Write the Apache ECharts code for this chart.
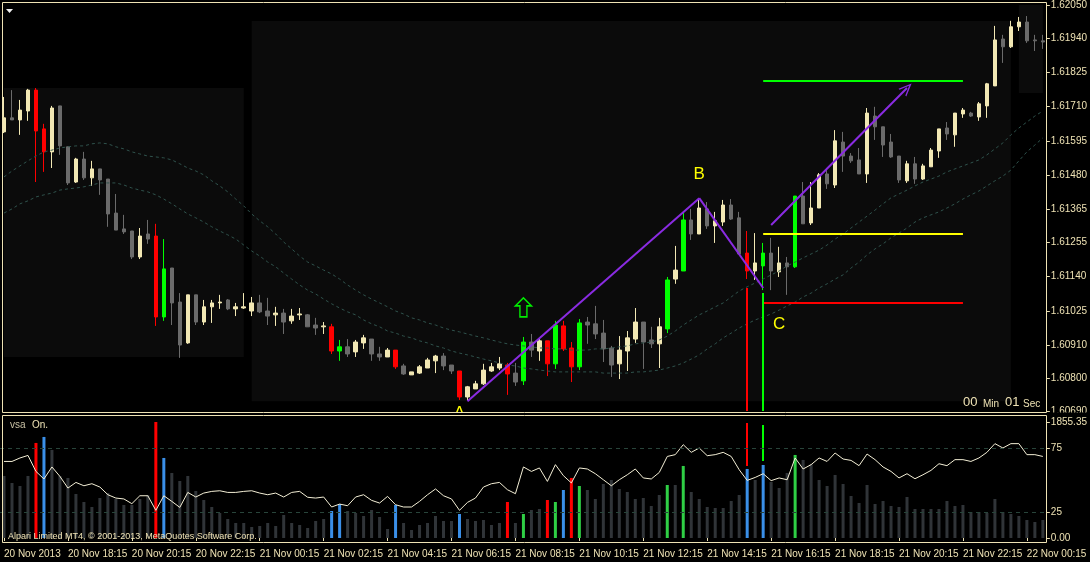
<!DOCTYPE html>
<html>
<head>
<meta charset="utf-8">
<title>GBPUSD M15 vsa</title>
<script src="https://cdn.jsdelivr.net/npm/echarts@6.0.0/dist/echarts.min.js"></script>
<style>
html, body { margin: 0; padding: 0; background: #000; }
#chart { width: 1090px; height: 562px; }
</style>
</head>
<body>
<div id="chart"></div>
<script>
var chartDom = document.getElementById('chart');
var myChart = echarts.init(chartDom);
var option;

// axis labels
var tickLabels = ['20 Nov 2013', '20 Nov 18:15', '20 Nov 20:15', '20 Nov 22:15', '21 Nov 00:15',
  '21 Nov 02:15', '21 Nov 04:15', '21 Nov 06:15', '21 Nov 08:15', '21 Nov 10:15', '21 Nov 12:15',
  '21 Nov 14:15', '21 Nov 16:15', '21 Nov 18:15', '21 Nov 20:15', '21 Nov 22:15', '22 Nov 00:15'];
var priceLabels = [1.62050, 1.61940, 1.61825, 1.61710, 1.61595, 1.61480, 1.61365, 1.61255,
  1.61140, 1.61025, 1.60910, 1.60800, 1.60690];
var oscLevels = [25, 75];
var volScaleLabels = [0, 1855.35];

// 15 minute bars, 20 Nov 16:15 .. 22 Nov 00:45
var categories = [];
var t0 = Date.UTC(2013, 10, 20, 16, 15);
for (let i = 0; i < 131; i++) {
  var d = new Date(t0 + i * 900000);
  categories.push(d.getUTCDate() + ' Nov ' + ('0' + d.getUTCHours()).slice(-2) + ':' + ('0' + d.getUTCMinutes()).slice(-2));
}

// open, close, low, high
var ohlc = [
  [1.61625,1.61672,1.61621,1.61742],[1.61672,1.61665,1.61665,1.61765],[1.61665,1.61698,1.61615,1.61732],
  [1.61695,1.61765,1.61662,1.61769],[1.61765,1.61628,1.61457,1.61772],[1.61635,1.61558,1.61491,1.61652],
  [1.61558,1.61705,1.61504,1.61712],[1.61712,1.61578,1.61548,1.61712],[1.61575,1.61454,1.61447,1.61575],
  [1.61457,1.61534,1.61454,1.61538],[1.61534,1.61471,1.61464,1.61558],[1.61471,1.61501,1.61444,1.61528],
  [1.61501,1.61464,1.61414,1.61501],[1.61467,1.61350,1.61307,1.61467],[1.61353,1.61296,1.61296,1.61417],
  [1.61300,1.61290,1.61283,1.61347],[1.61293,1.61206,1.61199,1.61293],[1.61206,1.61276,1.61199,1.61303],
  [1.61283,1.61266,1.61250,1.61330],[1.61276,1.61005,1.60975,1.61317],[1.61005,1.61166,1.60992,1.61266],
  [1.61169,1.61052,1.60978,1.61169],[1.61055,1.60911,1.60868,1.61085],[1.60918,1.61079,1.60915,1.61079],
  [1.61079,1.60988,1.60978,1.61079],[1.60988,1.61039,1.60978,1.61062],[1.61039,1.61052,1.60985,1.61062],
  [1.61052,1.61055,1.61032,1.61079],[1.61062,1.61032,1.61028,1.61065],[1.61032,1.61039,1.61008,1.61052],
  [1.61035,1.61039,1.61032,1.61085],[1.61025,1.61052,1.61008,1.61072],[1.61052,1.61022,1.61018,1.61079],
  [1.61025,1.61008,1.60978,1.61069],[1.61012,1.61018,1.60975,1.61039],[1.61018,1.60988,1.60948,1.61032],
  [1.60992,1.61008,1.60982,1.61032],[1.61012,1.61015,1.60995,1.61035],[1.61012,1.60972,1.60972,1.61015],
  [1.60978,1.60968,1.60945,1.61002],[1.60972,1.60975,1.60948,1.60988],[1.60972,1.60891,1.60881,1.60982],
  [1.60891,1.60905,1.60858,1.60928],[1.60905,1.60881,1.60871,1.60931],[1.60888,1.60921,1.60871,1.60928],
  [1.60918,1.60935,1.60898,1.60945],[1.60931,1.60881,1.60858,1.60931],[1.60881,1.60871,1.60858,1.60905],
  [1.60871,1.60894,1.60871,1.60901],[1.60894,1.60838,1.60831,1.60894],[1.60841,1.60814,1.60811,1.60848],
  [1.60811,1.60821,1.60811,1.60821],[1.60817,1.60838,1.60814,1.60844],[1.60834,1.60861,1.60834,1.60868],
  [1.60858,1.60874,1.60817,1.60878],[1.60874,1.60841,1.60827,1.60884],[1.60844,1.60824,1.60814,1.60844],
  [1.60824,1.60737,1.60727,1.60824],[1.60737,1.60771,1.60727,1.60774],[1.60764,1.60781,1.60764,1.60791],
  [1.60781,1.60827,1.60777,1.60848],[1.60824,1.60838,1.60821,1.60851],[1.60834,1.60848,1.60827,1.60871],
  [1.60844,1.60814,1.60744,1.60851],[1.60817,1.60787,1.60774,1.60851],[1.60791,1.60921,1.60777,1.60938],
  [1.60921,1.60894,1.60871,1.60948],[1.60891,1.60925,1.60858,1.60931],[1.60925,1.60848,1.60807,1.60925],
  [1.60848,1.60978,1.60831,1.60992],[1.60975,1.60898,1.60891,1.60992],[1.60901,1.60838,1.60787,1.60921],
  [1.60838,1.60985,1.60827,1.60998],[1.60988,1.60978,1.60915,1.61005],[1.60982,1.60948,1.60931,1.61042],
  [1.60951,1.60898,1.60854,1.60995],[1.60901,1.60844,1.60804,1.60908],[1.60848,1.60894,1.60797,1.60941],
  [1.60891,1.60935,1.60824,1.60958],[1.60931,1.60988,1.60918,1.61035],[1.60988,1.60921,1.60831,1.60988],
  [1.60928,1.60915,1.60901,1.60972],[1.60915,1.60972,1.60834,1.61002],[1.60965,1.61129,1.60951,1.61139],
  [1.61132,1.61162,1.61116,1.61243],[1.61159,1.61330,1.61159,1.61357],[1.61330,1.61283,1.61263,1.61367],
  [1.61283,1.61370,1.61283,1.61400],[1.61367,1.61310,1.61300,1.61390],[1.61310,1.61327,1.61253,1.61357],
  [1.61323,1.61380,1.61310,1.61397],[1.61380,1.61333,1.61330,1.61400],[1.61337,1.61216,1.61216,1.61357],
  [1.61219,1.61159,1.61132,1.61293],[1.61159,1.61186,1.61129,1.61286],[1.61176,1.61219,1.61095,1.61253],
  [1.61219,1.61159,1.61095,1.61270],[1.61156,1.61186,1.61139,1.61240],[1.61186,1.61173,1.61079,1.61206],
  [1.61173,1.61410,1.61169,1.61410],[1.61410,1.61317,1.61317,1.61457],[1.61320,1.61370,1.61313,1.61457],
  [1.61370,1.61481,1.61370,1.61487],[1.61484,1.61451,1.61434,1.61497],[1.61447,1.61595,1.61437,1.61631],
  [1.61591,1.61544,1.61491,1.61625],[1.61544,1.61528,1.61521,1.61554],[1.61531,1.61484,1.61484,1.61571],
  [1.61484,1.61688,1.61454,1.61705],[1.61678,1.61642,1.61598,1.61709],[1.61642,1.61581,1.61541,1.61642],
  [1.61591,1.61541,1.61538,1.61618],[1.61544,1.61464,1.61454,1.61544],[1.61461,1.61518,1.61454,1.61528],
  [1.61518,1.61467,1.61451,1.61541],[1.61467,1.61511,1.61464,1.61518],[1.61508,1.61564,1.61508,1.61571],
  [1.61561,1.61635,1.61538,1.61635],[1.61638,1.61618,1.61598,1.61658],[1.61615,1.61688,1.61575,1.61688],
  [1.61685,1.61698,1.61672,1.61705],[1.61688,1.61678,1.61675,1.61692],[1.61675,1.61719,1.61662,1.61725],
  [1.61712,1.61786,1.61672,1.61789],[1.61779,1.61933,1.61779,1.61980],[1.61936,1.61910,1.61856,1.61950],
  [1.61910,1.61977,1.61906,1.61997],[1.61977,1.61993,1.61963,1.62010],[1.61993,1.61930,1.61923,1.62013],
  [1.61933,1.61930,1.61896,1.61950],[1.61930,1.61926,1.61903,1.61950]
];
var redBars = [4, 5, 19, 41, 49, 57, 63, 68, 70, 71, 93];
var greenBars = [20, 42, 65, 69, 72, 83, 85, 95, 99];

var maUpper = [1.61474,1.61494,1.61511,1.61528,1.61544,1.61558,1.61564,1.61571,1.61575,1.61578,
  1.61578,1.61585,1.61588,1.61585,1.61575,1.61568,1.61558,1.61551,1.61544,1.61541,
  1.61538,1.61531,1.61518,1.61504,1.61494,1.61481,1.61461,1.61444,1.61424,1.61400,
  1.61377,1.61350,1.61327,1.61307,1.61283,1.61256,1.61233,1.61209,1.61189,1.61176,
  1.61162,1.61149,1.61132,1.61112,1.61095,1.61079,1.61065,1.61052,1.61039,1.61025,
  1.61015,1.61002,1.60995,1.60985,1.60978,1.60968,1.60961,1.60955,1.60948,1.60941,
  1.60935,1.60928,1.60921,1.60915,1.60911,1.60908,1.60905,1.60901,1.60901,1.60898,
  1.60898,1.60894,1.60894,1.60894,1.60898,1.60898,1.60901,1.60905,1.60908,1.60915,
  1.60918,1.60921,1.60928,1.60941,1.60958,1.60978,1.60995,1.61012,1.61025,1.61039,
  1.61052,1.61072,1.61092,1.61106,1.61119,1.61132,1.61146,1.61159,1.61176,1.61189,
  1.61203,1.61216,1.61229,1.61246,1.61266,1.61283,1.61303,1.61323,1.61343,1.61363,
  1.61384,1.61404,1.61417,1.61430,1.61444,1.61457,1.61467,1.61477,1.61491,1.61501,
  1.61511,1.61521,1.61531,1.61548,1.61568,1.61588,1.61615,1.61638,1.61658,1.61678,
  1.61695];
var maLower = [1.61353,1.61367,1.61384,1.61394,1.61407,1.61414,1.61420,1.61430,1.61434,1.61437,
  1.61441,1.61447,1.61454,1.61454,1.61454,1.61447,1.61437,1.61430,1.61424,1.61414,
  1.61400,1.61384,1.61367,1.61350,1.61337,1.61323,1.61307,1.61293,1.61280,1.61266,
  1.61246,1.61226,1.61209,1.61189,1.61173,1.61152,1.61132,1.61112,1.61095,1.61082,
  1.61065,1.61049,1.61035,1.61022,1.61012,1.60995,1.60982,1.60972,1.60958,1.60951,
  1.60941,1.60935,1.60925,1.60918,1.60908,1.60901,1.60891,1.60884,1.60878,1.60871,
  1.60864,1.60858,1.60851,1.60844,1.60841,1.60834,1.60831,1.60827,1.60824,1.60821,
  1.60821,1.60821,1.60821,1.60821,1.60821,1.60817,1.60817,1.60817,1.60817,1.60821,
  1.60821,1.60824,1.60827,1.60834,1.60841,1.60851,1.60864,1.60878,1.60898,1.60915,
  1.60935,1.60951,1.60968,1.60982,1.60995,1.61005,1.61015,1.61028,1.61042,1.61055,
  1.61072,1.61085,1.61102,1.61116,1.61132,1.61146,1.61169,1.61189,1.61213,1.61233,
  1.61250,1.61270,1.61286,1.61303,1.61323,1.61337,1.61347,1.61357,1.61370,1.61384,
  1.61400,1.61414,1.61427,1.61444,1.61461,1.61477,1.61497,1.61528,1.61558,1.61581,
  1.61605];

var volume = [992,880,832,992,1520,1616,1408,992,960,704,
  576,496,640,720,624,528,528,624,688,1855.35,
  1280,1040,912,992,752,608,496,400,304,240,
  240,176,192,240,192,368,240,208,160,272,
  304,432,544,432,400,352,448,336,144,528,
  240,128,208,240,352,272,272,384,304,272,
  288,208,240,576,240,384,448,464,608,576,
  768,960,832,768,624,864,928,784,736,624,
  640,512,688,848,848,1152,736,624,496,480,
  480,592,688,1104,928,1168,896,800,1040,1328,
  1248,1184,928,832,1008,864,672,560,848,544,
  592,512,496,656,464,464,464,464,592,512,
  528,416,416,400,624,416,384,352,288,256,
  288];
var volRed = [4, 19, 63, 68, 71];
var volBlue = [5, 20, 41, 42, 49, 57, 70, 93, 95];
var volGreen = [65, 69, 72, 83, 85, 99];

var vsaLine = [64.5,64.5,67.2,69.2,56.7,50.8,60.2,52.8,43.7,48.1,
  45.5,47.1,44.5,38.5,35.9,35.2,31.5,37.7,37.7,26.3,
  37.7,33.3,28.6,40.3,36.7,39.8,41.1,41.6,40.3,40.3,
  41.1,41.6,39.8,38.5,39.8,36.7,40.3,41.1,36.5,35.9,
  36.7,28.9,31.2,29.9,36.7,38.5,34.1,32.0,37.2,30.7,
  28.9,28.9,33.3,38.5,43.0,37.7,35.2,26.3,32.5,35.9,
  44.5,47.1,48.1,42.4,39.3,60.2,56.7,59.4,48.9,62.0,
  53.4,47.7,59.4,58.6,54.9,50.2,45.5,50.2,54.1,58.6,
  51.6,50.8,55.9,68.4,69.8,77.6,71.6,75.0,69.0,69.8,
  71.6,68.4,58.0,49.7,52.0,54.9,49.5,51.6,50.2,67.2,
  58.6,62.0,67.2,64.5,71.1,66.4,65.3,61.2,70.3,65.9,
  60.2,56.7,51.6,54.9,51.0,54.1,57.5,62.7,61.2,65.9,
  65.9,64.5,67.2,71.6,78.4,75.0,78.4,78.4,69.8,69.8,
  68.4];

// session boxes: first bar, last bar, top price, bottom price
var sessionBoxes = [[0, 30, 1.61772, 1.60871], [31, 126, 1.61996, 1.60723], [127, 130, 1.62050, 1.61755]];
// drawn objects
var waveABC = [[58, 1.60723], [87, 1.61403], [95, 1.61102]];
var targetArrow = [[96, 1.61313], [113, 1.61772]];
var levelSpan = [95, 120];
var levelGreen = 1.61797;
var levelYellow = 1.61284;
var levelRed = 1.61054;
var markerRed = [93, 1.61102];
var markerGreen = [95, 1.61085];
var vsaMarkRed = [93, 1152, 1839];
var vsaMarkGreen = [95, 1232, 1807];
var waveLabels = [['A', 57, 1.60690, 2], ['B', 87, 1.61483, 0], ['C', 97, 1.60980, 0]];
var upArrow = [65, 1.61037];

var FG = '#eee2b4';
var FONT = 'Liberation Sans';
var PURPLE = '#8a2be2';

var candleData = ohlc.map(function (v, i) {
  var c = null;
  if (redBars.indexOf(i) >= 0) c = '#ff0000';
  if (greenBars.indexOf(i) >= 0) c = '#00ff00';
  if (!c) return v;
  return { value: v, itemStyle: { color: c, color0: c, borderColor: c, borderColor0: c } };
});

var volData = volume.map(function (v, i) {
  var c = '#303438';
  if (volRed.indexOf(i) >= 0) c = '#ff0000';
  if (volBlue.indexOf(i) >= 0) c = '#3a8fe8';
  if (volGreen.indexOf(i) >= 0) c = '#2fcf45';
  return { value: v, itemStyle: { color: c } };
});

function seg(a, b, color, width) {
  return [{ coord: a, lineStyle: { color: color, width: width, type: 'solid' } }, { coord: b }];
}

var arrowHead = 'path://M6,0 L12,13 L10.4,13 L6,3.5 L1.6,13 L0,13 Z';
var upArrowPath = 'path://M8,0 L16,8 L11.5,8 L11.5,19 L4.5,19 L4.5,8 L0,8 Z';

var annotationLines = [
  seg(waveABC[0], waveABC[1], PURPLE, 2),
  seg(waveABC[1], waveABC[2], PURPLE, 2),
  [{ coord: targetArrow[0], lineStyle: { color: PURPLE, width: 2, type: 'solid' } },
   { coord: targetArrow[1], symbol: arrowHead, symbolSize: [11, 13] }],
  seg([levelSpan[0], levelGreen], [levelSpan[1], levelGreen], '#00ff00', 2),
  seg([levelSpan[0], levelYellow], [levelSpan[1], levelYellow], '#ffff00', 2),
  seg([levelSpan[0], levelRed], [levelSpan[1], levelRed], '#ff0000', 2),
  seg([markerRed[0], 1.6069], markerRed, '#ff0000', 2),
  seg([markerGreen[0], 1.6069], markerGreen, '#00ff00', 2)
];

var markPoints = [{
  coord: upArrow, symbol: upArrowPath, symbolSize: [16, 19],
  itemStyle: { color: 'rgba(0,0,0,0)', borderColor: '#00ee00', borderWidth: 1.5 }
}];
waveLabels.forEach(function (w) {
  markPoints.push({
    coord: [w[1], w[2]], symbol: 'circle', symbolSize: 1,
    itemStyle: { color: 'rgba(0,0,0,0)' },
    label: { show: true, position: 'inside', offset: [0, w[3]], formatter: w[0], color: '#ffff00', fontSize: 17, fontFamily: FONT }
  });
});

var boxes = sessionBoxes.map(function (b) {
  return [{ coord: [b[0], b[2]] }, { coord: [b[1], b[3]] }];
});

option = {
  backgroundColor: '#000000',
  animation: false,
  grid: [
    { left: -1, width: 1048, top: 5, height: 406 },
    { left: -1, width: 1048, top: 416, height: 128 }
  ],
  xAxis: [
    { type: 'category', gridIndex: 0, data: categories, boundaryGap: true,
      axisLine: { show: false }, axisTick: { show: false }, axisLabel: { show: false }, splitLine: { show: false } },
    { type: 'category', gridIndex: 1, data: categories, boundaryGap: true,
      axisLine: { show: false },
      axisTick: { show: true, interval: 7, alignWithLabel: true, length: 3, lineStyle: { color: FG } },
      axisLabel: {
        interval: 7, align: 'left', margin: 5, color: FG, fontSize: 10, fontFamily: FONT,
        formatter: function (value, index) { return tickLabels[index / 8] || ''; }
      },
      splitLine: { show: false } }
  ],
  yAxis: [
    { type: 'value', gridIndex: 0, position: 'right', min: 1.6069, max: 1.6205,
      splitLine: { show: false }, axisLine: { show: false },
      axisTick: { show: true, customValues: priceLabels, length: 3, lineStyle: { color: FG } },
      axisLabel: { customValues: priceLabels, margin: 4, color: FG, fontSize: 10, fontFamily: FONT,
        formatter: function (v) { return v.toFixed(5); } } },
    { type: 'value', gridIndex: 1, position: 'right', min: -96, max: 1951,
      splitLine: { show: false }, axisLine: { show: false },
      axisTick: { show: true, customValues: volScaleLabels, length: 3, lineStyle: { color: FG } },
      axisLabel: { customValues: volScaleLabels, margin: 4, color: FG, fontSize: 10, fontFamily: FONT,
        formatter: function (v) { return v.toFixed(2); } } },
    { type: 'value', gridIndex: 1, position: 'right', min: 0, max: 100,
      splitLine: { show: false }, axisLine: { show: false },
      axisTick: { show: true, customValues: oscLevels, length: 3, lineStyle: { color: FG } },
      axisLabel: { customValues: oscLevels, margin: 4, color: FG, fontSize: 10, fontFamily: FONT } }
  ],
  series: [
    {
      name: 'MA slow', type: 'line', xAxisIndex: 0, yAxisIndex: 0, data: maLower,
      symbol: 'none', silent: true,
      lineStyle: { color: '#2f524c', width: 1, type: [3, 3] },
      markArea: { silent: true, itemStyle: { color: '#0b0b0b' }, data: boxes }
    },
    {
      name: 'MA fast', type: 'line', xAxisIndex: 0, yAxisIndex: 0, data: maUpper,
      symbol: 'none', silent: true,
      lineStyle: { color: '#2f524c', width: 1, type: [3, 3] }
    },
    {
      name: 'GBPUSD', type: 'candlestick', xAxisIndex: 0, yAxisIndex: 0, data: candleData,
      barWidth: 4, silent: true,
      itemStyle: { color: '#f2e8b4', color0: '#6b6b6b', borderColor: '#f2e8b4', borderColor0: '#6b6b6b', borderWidth: 1 },
      markLine: { silent: true, symbol: ['none', 'none'], label: { show: false }, data: annotationLines },
      markPoint: { silent: true, label: { show: false }, data: markPoints }
    },
    {
      name: 'Volume', type: 'bar', xAxisIndex: 1, yAxisIndex: 1, data: volData,
      barWidth: 3, silent: true,
      markLine: { silent: true, symbol: ['none', 'none'], label: { show: false },
        data: [
          seg([vsaMarkRed[0], vsaMarkRed[1]], [vsaMarkRed[0], vsaMarkRed[2]], '#ff0000', 2),
          seg([vsaMarkGreen[0], vsaMarkGreen[1]], [vsaMarkGreen[0], vsaMarkGreen[2]], '#00ff00', 2)
        ] }
    },
    {
      name: 'vsa', type: 'line', xAxisIndex: 1, yAxisIndex: 2, data: vsaLine,
      symbol: 'none', silent: true,
      lineStyle: { color: '#f4efd6', width: 1 },
      markLine: { silent: true, symbol: ['none', 'none'], label: { show: false },
        lineStyle: { color: '#28443a', width: 1, type: [4, 4] },
        data: oscLevels.map(function (l) { return { yAxis: l }; }) }
    }
  ],
  graphic: [
    { type: 'rect', z: 90, silent: true, shape: { x: 446, y: 413, width: 26, height: 10 }, style: { fill: '#000' } },
    { type: 'rect', z: 90, silent: true, shape: { x: 1048, y: 412.5, width: 42, height: 4 }, style: { fill: '#000' } },
    { type: 'rect', z: 100, silent: true, shape: { x: 2.5, y: 2.5, width: 1044, height: 410 }, style: { fill: null, stroke: FG, lineWidth: 1 } },
    { type: 'rect', z: 100, silent: true, shape: { x: 2.5, y: 415.5, width: 1044, height: 127 }, style: { fill: null, stroke: FG, lineWidth: 1 } },
    { type: 'polygon', z: 100, silent: true, shape: { points: [[6, 9], [13, 9], [9.5, 13]] }, style: { fill: '#f0f0f0' } },
    { type: 'text', z: 100, silent: true, x: 10, y: 425, style: { text: 'vsa', fill: '#c8c0a4', font: '10px "Liberation Sans"', verticalAlign: 'middle' } },
    { type: 'text', z: 100, silent: true, x: 32, y: 425, style: { text: 'On.', fill: FG, font: '10px "Liberation Sans"', verticalAlign: 'middle' } },
    { type: 'text', z: 100, silent: true, x: 8, y: 537, style: { text: 'Alpari Limited MT4, \u00a9 2001-2013, MetaQuotes Software Corp.', fill: FG, font: '9px "Liberation Sans"', verticalAlign: 'middle' } },
    { type: 'text', z: 100, silent: true, x: 963, y: 409, style: { text: '00', fill: FG, font: '13px "Liberation Sans"', verticalAlign: 'bottom' } },
    { type: 'text', z: 100, silent: true, x: 983, y: 409, style: { text: 'Min', fill: FG, font: '10px "Liberation Sans"', verticalAlign: 'bottom' } },
    { type: 'text', z: 100, silent: true, x: 1005, y: 409, style: { text: '01', fill: FG, font: '13px "Liberation Sans"', verticalAlign: 'bottom' } },
    { type: 'text', z: 100, silent: true, x: 1023, y: 409, style: { text: 'Sec', fill: FG, font: '10px "Liberation Sans"', verticalAlign: 'bottom' } }
  ]
};

option && myChart.setOption(option);
</script>
</body>
</html>
